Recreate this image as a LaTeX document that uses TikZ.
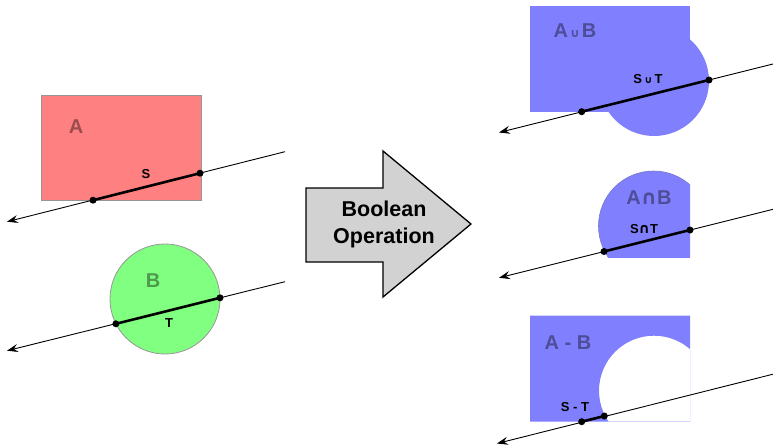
\documentclass[tikz,border=0pt]{standalone}
\usepackage{fontspec}
\setmainfont{Liberation Sans}
\newfontfamily\symfont{DejaVu Sans}
\usetikzlibrary{arrows.meta}

\definecolor{setA}{RGB}{255,128,128}
\definecolor{setB}{RGB}{128,255,128}
\definecolor{res}{RGB}{128,128,255}
\definecolor{labA}{RGB}{153,77,77}
\definecolor{labB}{RGB}{77,153,77}
\definecolor{labR}{RGB}{77,77,153}
\definecolor{opfill}{RGB}{210,210,210}

\tikzset{
  shapeedge/.style={draw={rgb,255:red,150;green,150;blue,150}, line width=0.8pt},
  resedge/.style={draw={rgb,255:red,120;green,120;blue,200}, line width=0.6pt},
  ray/.style={draw=black, line width=0.9pt, {Stealth[length=11pt,width=8pt,inset=4pt]}-},
  seg/.style={draw=black, line width=2.6pt},
  dot/.style={circle, fill=black, inner sep=0pt, minimum size=7pt},
  setlabel/.style={font=\fontsize{20}{20}\selectfont\bfseries, inner sep=0pt},
  seglabel/.style={font=\fontsize{13}{13}\selectfont\bfseries, inner sep=0pt, text=black},
}

\newcommand{\smallcup}{{\symfont\fontsize{12}{12}\selectfont\,∪\,}}
\newcommand{\boldcap}{{\symfont\bfseries\fontsize{20}{20}\selectfont ∩}}
\newcommand{\segcup}{{\symfont\fontsize{10}{10}\selectfont ∪}}
\newcommand{\segcap}{{\symfont\bfseries\fontsize{14}{14}\selectfont ∩}}

\begin{document}
\begin{tikzpicture}[x=1pt, y=-1pt]
\useasboundingbox (0,0) rectangle (773,447);

% ---------- operand A: rectangle with segment S ----------
\fill[setA] (41,95) rectangle (201,200);
\draw[shapeedge] (41,95) rectangle (201,200);
\node[setlabel, text=labA] (lblA) at (76,127) {A};
\coordinate (sTip) at (7,221.7);
\coordinate (sEnd) at (285,151.7);
\draw[ray] (sTip) -- (sEnd);
\node[dot] (s1) at (93,200.2) {};
\node[dot] (s2) at (200,173.2) {};
\draw[seg] (s1.center) -- (s2.center);
\node[seglabel] (lblS) at (146,174) {S};

% ---------- operand B: circle with segment T ----------
\fill[setB] (165,299) circle[radius=55];
\draw[shapeedge] (165,299) circle[radius=55];
\node[setlabel, text=labB] (lblB) at (153,281) {B};
\coordinate (tTip) at (7,350.7);
\coordinate (tEnd) at (285,281.7);
\draw[ray] (tTip) -- (tEnd);
\node[dot] (t1) at (115.9,323.8) {};
\node[dot] (t2) at (220,297.8) {};
\draw[seg] (t1.center) -- (t2.center);
\node[seglabel] (lblT) at (169,323) {T};

% ---------- operation arrow ----------
\draw[fill=opfill, line width=1.3pt, line join=miter]
  (306,188) -- (383,188) -- (383,151) -- (471,224) -- (383,297) -- (383,262) -- (306,262) -- cycle;
\node[font=\fontsize{21.5}{27}\selectfont\bfseries, align=center, inner sep=0pt] (op) at (384,224)
  {Boolean\\Operation};

% ---------- union ----------
\fill[res] (530,6) rectangle (690,112);
\fill[res] (654,81) circle[radius=55];
\node[setlabel, text=labR] (lblU) at (575,31) {A\smallcup B};
\coordinate (uTip) at (499,132.5);
\coordinate (uEnd) at (773,64);
\draw[ray] (uTip) -- (uEnd);
\node[dot] (u1) at (581.7,111.7) {};
\node[dot] (u2) at (709,80) {};
\draw[seg] (u1.center) -- (u2.center);
\node[seglabel] (lblSU) at (648,79) {S\,\segcup\,T};

% ---------- intersection ----------
\begin{scope}
  \clip (530,151) rectangle (690,257.3);
  \fill[res] (653.5,226) circle[radius=55];
  \draw[resedge] (653.5,226) circle[radius=55];
\end{scope}
\node[setlabel, text=labR] (lblI) at (649,198) {A\boldcap B};
\coordinate (iTip) at (499,277.8);
\coordinate (iEnd) at (773,209.3);
\draw[ray] (iTip) -- (iEnd);
\node[dot] (i1) at (604,251.5) {};
\node[dot] (i2) at (690,230) {};
\draw[seg] (i1.center) -- (i2.center);
\node[seglabel] (lblSI) at (644,229) {S\segcap T};

% ---------- difference ----------
\begin{scope}
  \clip (530,315.7) rectangle (690,421.7);
  \fill[res, even odd rule] (530,315.7) rectangle (690,421.7) (654,390.7) circle[radius=55];
\end{scope}
\node[setlabel, text=labR] (lblD) at (568,343) {A - B};
\coordinate (dTip) at (497,443.5);
\coordinate (dEnd) at (773,374.2);
\draw[ray] (dTip) -- (dEnd);
\node[dot] (d1) at (581.7,421.7) {};
\node[dot] (d2) at (604.3,416) {};
\draw[seg] (d1.center) -- (d2.center);
\node[seglabel] (lblSD) at (575,407) {S - T};
\end{tikzpicture}
\end{document}
